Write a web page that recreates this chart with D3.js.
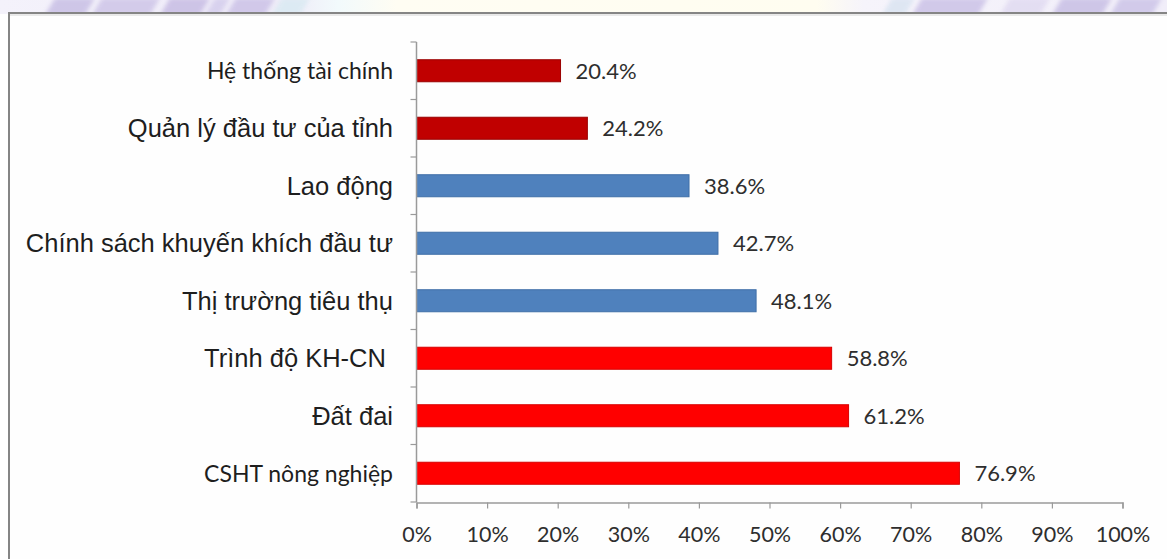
<!DOCTYPE html>
<html>
<head>
<meta charset="utf-8">
<script src="https://cdn.jsdelivr.net/npm/d3@7"></script>
<style>
  html, body { margin: 0; padding: 0; background: #ffffff; }
  svg { display: block; }
</style>
</head>
<body>
<svg id="chart" width="1167" height="559"></svg>
<script>
// Factors and share of respondents (%)
const categories = [
  "Hệ thống tài chính",
  "Quản lý đầu tư của tỉnh",
  "Lao động",
  "Chính sách khuyến khích đầu tư",
  "Thị trường tiêu thụ",
  "Trình độ KH-CN ",
  "Đất đai",
  "CSHT nông nghiệp"
];
const values = [20.4, 24.2, 38.6, 42.7, 48.1, 58.8, 61.2, 76.9];
const groups = ["low", "low", "mid", "mid", "mid", "high", "high", "high"];
const xTicks = [0, 10, 20, 30, 40, 50, 60, 70, 80, 90, 100];

const groupColor = { low: "#c00000", mid: "#4f81bd", high: "#ff0000" };
const groupEdge = { low: "#9a0000", mid: "#3f6fa8", high: "#d80000" };
// labels set in the rounded sans face
const roundLabels = new Set(["Hệ thống tài chính", "CSHT nông nghiệp"]);

const svg = d3.select("#chart");
const W = 1167, H = 559;

// soft banner strip above the frame
const defs = svg.append("defs");
const blur = defs.append("filter").attr("id", "soft").attr("x", "-20%").attr("y", "-50%").attr("width", "140%").attr("height", "200%");
blur.append("feGaussianBlur").attr("stdDeviation", 2);
const band = defs.append("linearGradient").attr("id", "bandGrad").attr("x1", 0).attr("x2", 1);
[[0, "#f4f2fb"], [0.25, "#efecf8"], [0.29, "#f2fafc"], [0.34, "#fffdf3"], [0.7, "#fffdf0"], [0.74, "#f6f4fb"], [1, "#f1eef9"]]
  .forEach(([o, c]) => band.append("stop").attr("offset", o).attr("stop-color", c));
svg.append("rect").attr("x", 0).attr("y", 0).attr("width", W).attr("height", 14).attr("fill", "url(#bandGrad)");
const marks = svg.append("g").attr("filter", "url(#soft)").attr("opacity", 0.9);
const strokes = [
  [45, 85, "#cbc2e6"], [92, 150, "#d0c8e9"], [160, 200, "#cac0e5"], [205, 220, "#d6cfed"],
  [226, 265, "#cec5e8"], [272, 300, "#dbeaf3"],
  [882, 905, "#dce5f2"], [912, 978, "#cec5e8"], [1000, 1040, "#e2dcf2"], [1052, 1102, "#cbc2e6"],
  [1110, 1152, "#cfc7e9"]
];
strokes.forEach(([a, b, c]) => {
  marks.append("path")
    .attr("d", `M${a},15 L${a + 10},-2 L${b + 10},-2 L${b},15 Z`)
    .attr("fill", c);
});

// chart frame
svg.append("rect").attr("x", 9).attr("y", 13).attr("width", W).attr("height", H)
  .attr("fill", "#fefefe").attr("stroke", "#858585").attr("stroke-width", 2);
svg.append("line").attr("x1", 10).attr("x2", W).attr("y1", 15).attr("y2", 15)
  .attr("stroke", "#d4d4d4").attr("stroke-width", 1);

const plot = { left: 416.5, right: 1122.5, top: 42, bottom: 502 };

const x = d3.scaleLinear().domain([0, 100]).range([plot.left, plot.right]);
const y = d3.scaleBand().domain(categories).range([plot.top, plot.bottom]).paddingInner(0.617).paddingOuter(0.3085);

const axisColor = "#9a9a9a";

// bars
svg.append("g").selectAll("rect")
  .data(categories)
  .join("rect")
  .attr("x", x(0))
  .attr("y", d => y(d))
  .attr("width", (d, i) => x(values[i]) - x(0))
  .attr("height", y.bandwidth())
  .attr("fill", (d, i) => groupColor[groups[i]])
  .attr("stroke", (d, i) => groupEdge[groups[i]])
  .attr("stroke-width", 1);

// value labels
svg.append("g").selectAll("text")
  .data(categories)
  .join("text")
  .attr("x", (d, i) => x(values[i]) + 15)
  .attr("y", d => y(d) + y.bandwidth() / 2)
  .attr("dy", "0.36em")
  .attr("font-family", "Lato, 'Open Sans', sans-serif")
  .attr("font-size", 22)
  .attr("fill", "#2e2e2e")
  .text((d, i) => values[i].toFixed(1) + "%");

// y axis: line with ticks between categories
const yAxisG = svg.append("g");
yAxisG.append("line")
  .attr("x1", plot.left).attr("x2", plot.left)
  .attr("y1", plot.top).attr("y2", plot.bottom)
  .attr("stroke", axisColor).attr("stroke-width", 1.5);
const boundaries = d3.range(categories.length + 1).map(i => plot.top + i * y.step());
yAxisG.selectAll("line.tick")
  .data(boundaries)
  .join("line")
  .attr("class", "tick")
  .attr("x1", plot.left - 6).attr("x2", plot.left)
  .attr("y1", d => d).attr("y2", d => d)
  .attr("stroke", axisColor).attr("stroke-width", 1.2);

// category labels
yAxisG.selectAll("text")
  .data(categories)
  .join("text")
  .attr("x", 393)
  .attr("y", d => y(d) + y.bandwidth() / 2)
  .attr("dy", "0.36em")
  .attr("text-anchor", "end")
  .attr("xml:space", "preserve")
  .style("white-space", "pre")
  .attr("font-family", d => roundLabels.has(d) ? "Lato, 'Open Sans', sans-serif" : "'Liberation Sans', Arial, sans-serif")
  .attr("font-size", d => roundLabels.has(d) ? 23 : 25.5)
  .attr("fill", "#1e1e1e")
  .text(d => d);

// x axis
const xAxis = d3.axisBottom(x)
  .tickValues(xTicks)
  .tickSize(6)
  .tickPadding(18)
  .tickFormat(d => d + "%");
const xAxisG = svg.append("g")
  .attr("transform", `translate(0,${plot.bottom + 0.5})`)
  .call(xAxis);
xAxisG.select(".domain").attr("stroke", axisColor).attr("stroke-width", 1.5);
xAxisG.selectAll(".tick line").attr("stroke", axisColor).attr("stroke-width", 1.2);
xAxisG.selectAll(".tick text")
  .attr("font-family", "Lato, 'Open Sans', sans-serif")
  .attr("font-size", 21.5)
  .attr("fill", "#2e2e2e");
</script>
</body>
</html>
